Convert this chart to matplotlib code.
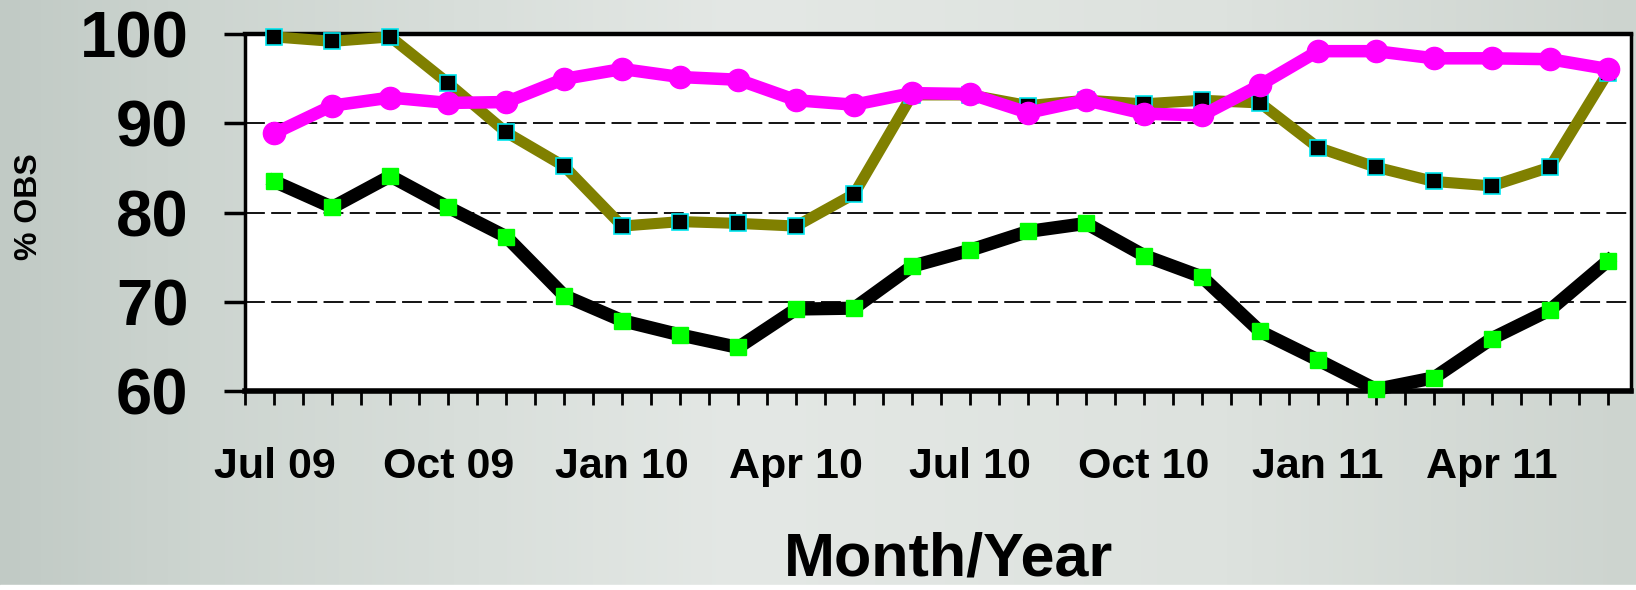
import numpy as np
import matplotlib.pyplot as plt
from matplotlib.colors import LinearSegmentedColormap

plt.rcParams['font.family'] = ['Liberation Sans', 'DejaVu Sans']

months = ['Jul 09', 'Aug 09', 'Sep 09', 'Oct 09', 'Nov 09', 'Dec 09',
          'Jan 10', 'Feb 10', 'Mar 10', 'Apr 10', 'May 10', 'Jun 10',
          'Jul 10', 'Aug 10', 'Sep 10', 'Oct 10', 'Nov 10', 'Dec 10',
          'Jan 11', 'Feb 11', 'Mar 11', 'Apr 11', 'May 11', 'Jun 11']
label_every = 3

olive_vals = [99.7, 99.2, 99.7, 94.5, 89.0, 85.2, 78.5, 79.0, 78.8, 78.5,
              82.1, 93.2, 93.2, 92.0, 92.6, 92.2, 92.6, 92.3, 87.3, 85.1,
              83.5, 83.0, 85.1, 95.7]
magenta_vals = [88.9, 92.0, 92.9, 92.3, 92.4, 95.0, 96.1, 95.2, 94.9, 92.6,
                92.1, 93.4, 93.3, 91.2, 92.6, 91.1, 90.9, 94.3, 98.1, 98.1,
                97.3, 97.3, 97.2, 96.1]
black_vals = [83.5, 80.6, 84.1, 80.6, 77.3, 70.7, 67.9, 66.3, 64.9, 69.2,
              69.3, 74.0, 75.8, 77.9, 78.8, 75.2, 72.8, 66.7, 63.5, 60.2,
              61.5, 65.9, 69.1, 74.6]

x = np.arange(len(months))

fig = plt.figure(figsize=(16.36, 5.90), dpi=100)

# background gradient
bg = fig.add_axes([0, 0, 1, 1], zorder=-10)
cmap = LinearSegmentedColormap.from_list(
    'bg', [(0.0, '#c1cac5'), (0.12, '#cdd5d0'), (0.45, '#e4e8e5'),
           (0.75, '#dde2de'), (1.0, '#cdd4cf')])
grad = np.tile(np.linspace(0, 1, 400), (50, 1))
bg.imshow(grad, aspect='auto', cmap=cmap, extent=[0, 1, 0, 1])
bg.axhspan(0, 5 / 590, color='white')
bg.set_xlim(0, 1)
bg.set_ylim(0, 1)
bg.axis('off')

ax = fig.add_axes([0.150, 0.337, 0.847, 0.605])
ax.set_facecolor('white')

ax.plot(x, olive_vals, color='#808000', lw=8, marker='s', ms=12,
        mfc='black', mec='#00e5ee', mew=1.2, zorder=3, clip_on=False)
ax.plot(x, magenta_vals, color='#ff00ff', lw=9, marker='o', ms=16,
        mfc='#ff00ff', mec='#ff00ff', zorder=4, clip_on=False)
ax.plot(x, black_vals, color='black', lw=9.5, marker='s', ms=12,
        mfc='#00ff00', mec='#00ff00', zorder=5, clip_on=False)

ax.set_xlim(-0.5, 23.4)
ax.set_ylim(60, 100)
ax.set_yticks([60, 70, 80, 90, 100])
for yv in [70, 80, 90]:
    ax.axhline(yv, color='black', lw=1.3, ls=(0, (11, 3.5)), zorder=1)

ax.set_xticks(x[::label_every])
ax.set_xticklabels(months[::label_every])
ax.set_xticks(np.arange(-0.5, 23.5, 0.5), minor=True)
ax.tick_params(axis='x', which='both', direction='out', length=10, width=2,
               pad=30, labelsize=31)
ax.tick_params(axis='y', direction='out', length=15, width=2.5, pad=26,
               labelsize=47)
for lab in ax.get_xticklabels() + ax.get_yticklabels():
    lab.set_fontweight('bold')

for side in ['left', 'bottom', 'top', 'right']:
    ax.spines[side].set_linewidth(2.5)
ax.spines['bottom'].set_linewidth(4)
ax.spines['top'].set_linewidth(3.2)

fig.text(0.0175, 0.65, '% OBS', rotation=90, ha='center', va='center',
         fontsize=23, fontweight='bold')
fig.text(0.58, 0.002, 'Month/Year', ha='center', va='bottom',
         fontsize=44, fontweight='bold')

fig.savefig('out.png', dpi=100)
